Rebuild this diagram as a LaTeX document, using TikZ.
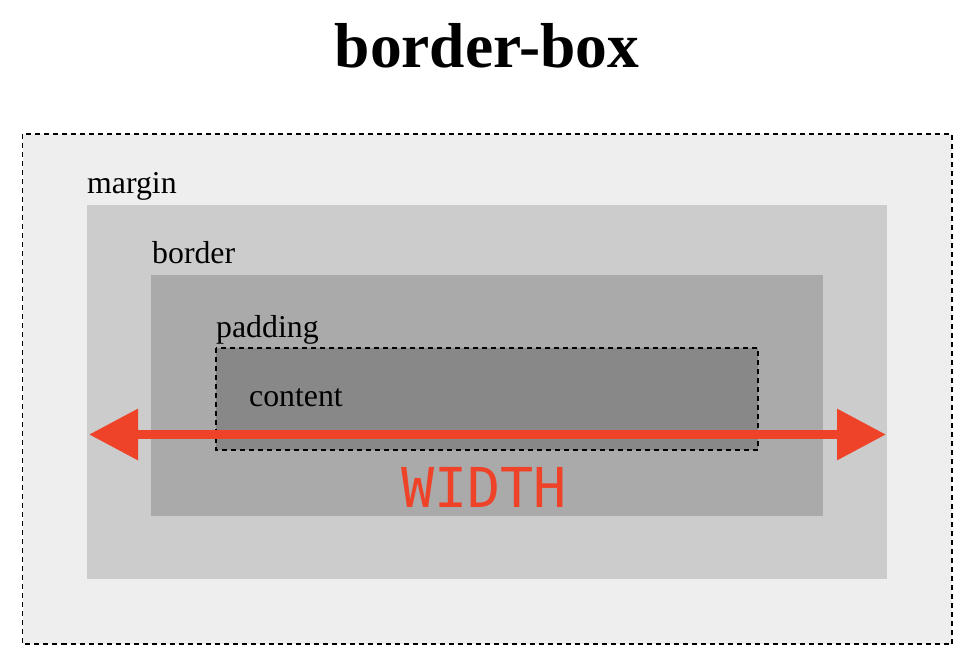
\documentclass[tikz,border=0pt]{standalone}
\usepackage{fontspec}
\setmainfont{Liberation Serif}
\newfontfamily\monofont{DejaVu Sans Mono}
\usetikzlibrary{arrows.meta}
\definecolor{outergrey}{HTML}{EEEEEE}
\definecolor{margingrey}{HTML}{CCCCCC}
\definecolor{bordergrey}{HTML}{AAAAAA}
\definecolor{contentgrey}{HTML}{888888}
\definecolor{arrowred}{RGB}{238,67,40}
\begin{document}
\begin{tikzpicture}[x=1pt,y=-1pt,
  dashedframe/.style={draw=black,line width=1.7pt,dash pattern=on 5pt off 4pt},
  lbl/.style={anchor=base west,inner sep=0pt,font=\fontsize{31.8}{36}\selectfont}]
\useasboundingbox (0,0) rectangle (972,669);
\fill[white] (0,0) rectangle (972,669);
% boxes
\path[fill=outergrey,dashedframe] (22.5,134) rectangle (952,644);
\fill[margingrey] (87,205) rectangle (887,579);
\fill[bordergrey] (151,275) rectangle (823,516);
\path[fill=contentgrey,dashedframe] (216,348) rectangle (758,450);
% title
\node[anchor=base,inner sep=0pt,font=\fontsize{63.5}{70}\selectfont\bfseries] (title) at (487,67) {border-box};
% labels
\node[lbl] (marginlbl) at (87,193) {margin};
\node[lbl] (borderlbl) at (152,263) {border};
\node[lbl] (paddinglbl) at (216,337) {padding};
\node[lbl] (contentlbl) at (249,406) {content};
% arrow
\coordinate (aL) at (89,434.5);
\coordinate (aR) at (886,434.5);
\draw[arrowred,line width=9.5pt,{Triangle[length=49pt,width=49pt]}-{Triangle[length=49pt,width=49pt]}] (aL) -- (aR);
\node[anchor=base,inner sep=0pt,text=arrowred,font=\fontsize{55}{60}\selectfont\monofont] (widthlbl) at (484,507) {WIDTH};
\end{tikzpicture}
\end{document}
